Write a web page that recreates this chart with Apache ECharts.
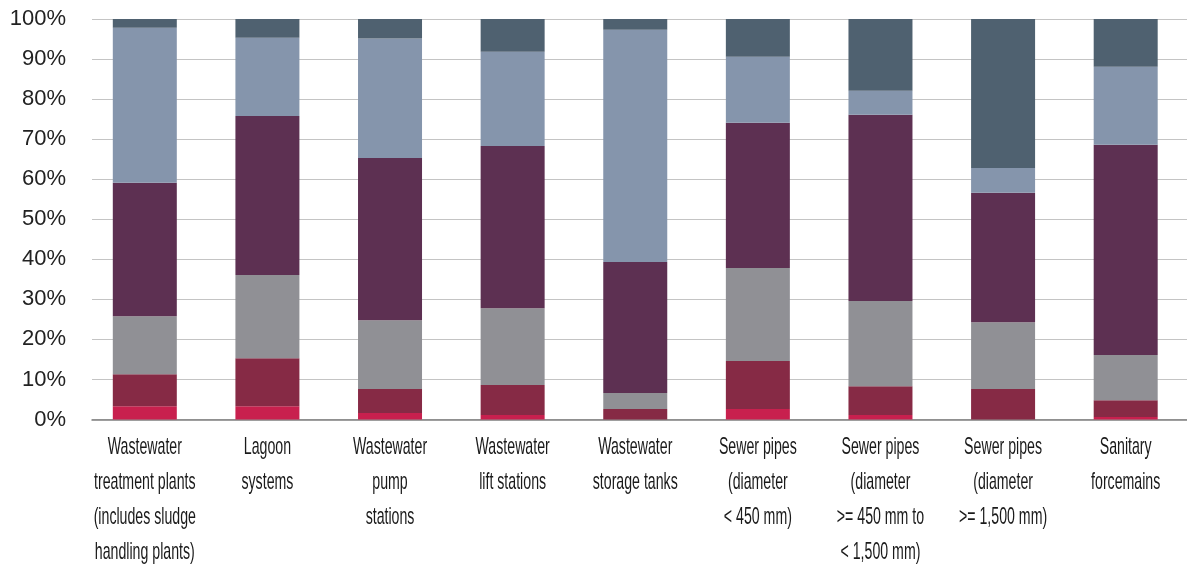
<!DOCTYPE html>
<html>
<head>
<meta charset="utf-8">
<script src="https://cdn.jsdelivr.net/npm/echarts@6/dist/echarts.min.js"></script>
<style>
html,body{margin:0;padding:0;background:#fff;}
#chart{width:1187px;height:566px;}
</style>
</head>
<body>
<div id="chart"></div>
<script>
const categories = [
  "Wastewater\ntreatment plants\n(includes sludge\nhandling plants)",
  "Lagoon\nsystems",
  "Wastewater\npump\nstations",
  "Wastewater\nlift stations",
  "Wastewater\nstorage tanks",
  "Sewer pipes\n(diameter\n< 450 mm)",
  "Sewer pipes\n(diameter\n>= 450 mm to\n< 1,500 mm)",
  "Sewer pipes\n(diameter\n>= 1,500 mm)",
  "Sanitary\nforcemains"
];
// stacked shares (%) from bottom to top
const seriesA = [3.3, 3.3, 1.6, 1.1, 0.0, 2.6, 1.1, 0.0, 0.6];
const seriesB = [8.0, 12.0, 6.0, 7.5, 2.6, 12.0, 7.2, 7.6, 4.2];
const seriesC = [14.5, 20.8, 17.2, 19.2, 4.0, 23.2, 21.3, 16.7, 11.3];
const seriesD = [33.3, 39.7, 40.5, 40.5, 32.7, 36.3, 46.5, 32.3, 52.5];
const seriesE = [38.7, 19.5, 29.8, 23.5, 58.0, 16.5, 6.0, 6.2, 19.5];
const seriesF = [2.2, 4.7, 4.9, 8.2, 2.7, 9.4, 17.9, 37.2, 11.9];
const yTicks = [0, 10, 20, 30, 40, 50, 60, 70, 80, 90, 100];

const colors = ["#C8204E", "#862A45", "#909095", "#5D3052", "#8595AC", "#4F6170"];
const allSeries = [seriesA, seriesB, seriesC, seriesD, seriesE, seriesF];

const chart = echarts.init(document.getElementById('chart'), null, {renderer: 'canvas'});

// category labels drawn condensed (narrow typeface look) under each category via the axis scale
const labelSeries = {
  type: 'custom', xAxisIndex: 0, yAxisIndex: 0, clip: false, silent: true, z: 5,
  data: categories.map((c, i) => [i, 0]),
  renderItem: function (params, api) {
    const p = api.coord([api.value(0), 0]);
    return {
      type: 'text',
      x: p[0], y: p[1] + 10,
      scaleX: 0.59, scaleY: 1,
      style: {
        text: categories[params.dataIndex],
        fill: '#1a1a1a',
        fontSize: 24,
        fontFamily: '"Liberation Sans", Arial, sans-serif',
        lineHeight: 35,
        align: 'center',
        verticalAlign: 'top'
      }
    };
  }
};

chart.setOption({
  animation: false,
  backgroundColor: '#ffffff',
  grid: [
    {left: 83.5, right: -17.5, top: 19, bottom: 146.5, containLabel: false},
    {left: 92, right: 0, top: 19, bottom: 146.5, containLabel: false}
  ],
  xAxis: [
    {
      type: 'category', gridIndex: 0, data: categories,
      axisLine: {show: false}, axisTick: {show: false}, axisLabel: {show: false}
    },
    {
      type: 'value', gridIndex: 1, min: 0, max: 1,
      axisLine: {show: true, lineStyle: {color: '#7f7f7f', width: 1.5}},
      axisTick: {show: false}, axisLabel: {show: false}, splitLine: {show: false}
    }
  ],
  yAxis: [
    {type: 'value', gridIndex: 0, min: 0, max: 100, show: false},
    {
      type: 'value', gridIndex: 1, min: yTicks[0], max: yTicks[yTicks.length - 1], interval: 10,
      axisLine: {show: false}, axisTick: {show: false},
      axisLabel: {
        margin: 26, color: '#222222', fontSize: 22,
        fontFamily: '"Liberation Sans", Arial, sans-serif',
        formatter: '{value}%'
      },
      splitLine: {show: true, lineStyle: {color: '#c4c4c4', width: 1.2}}
    }
  ],
  series: allSeries.map((d, i) => ({
    type: 'bar', stack: 'total', xAxisIndex: 0, yAxisIndex: 0,
    data: d, barWidth: 64, z: 3,
    itemStyle: {color: colors[i]}
  })).concat([labelSeries])
});
</script>
</body>
</html>
